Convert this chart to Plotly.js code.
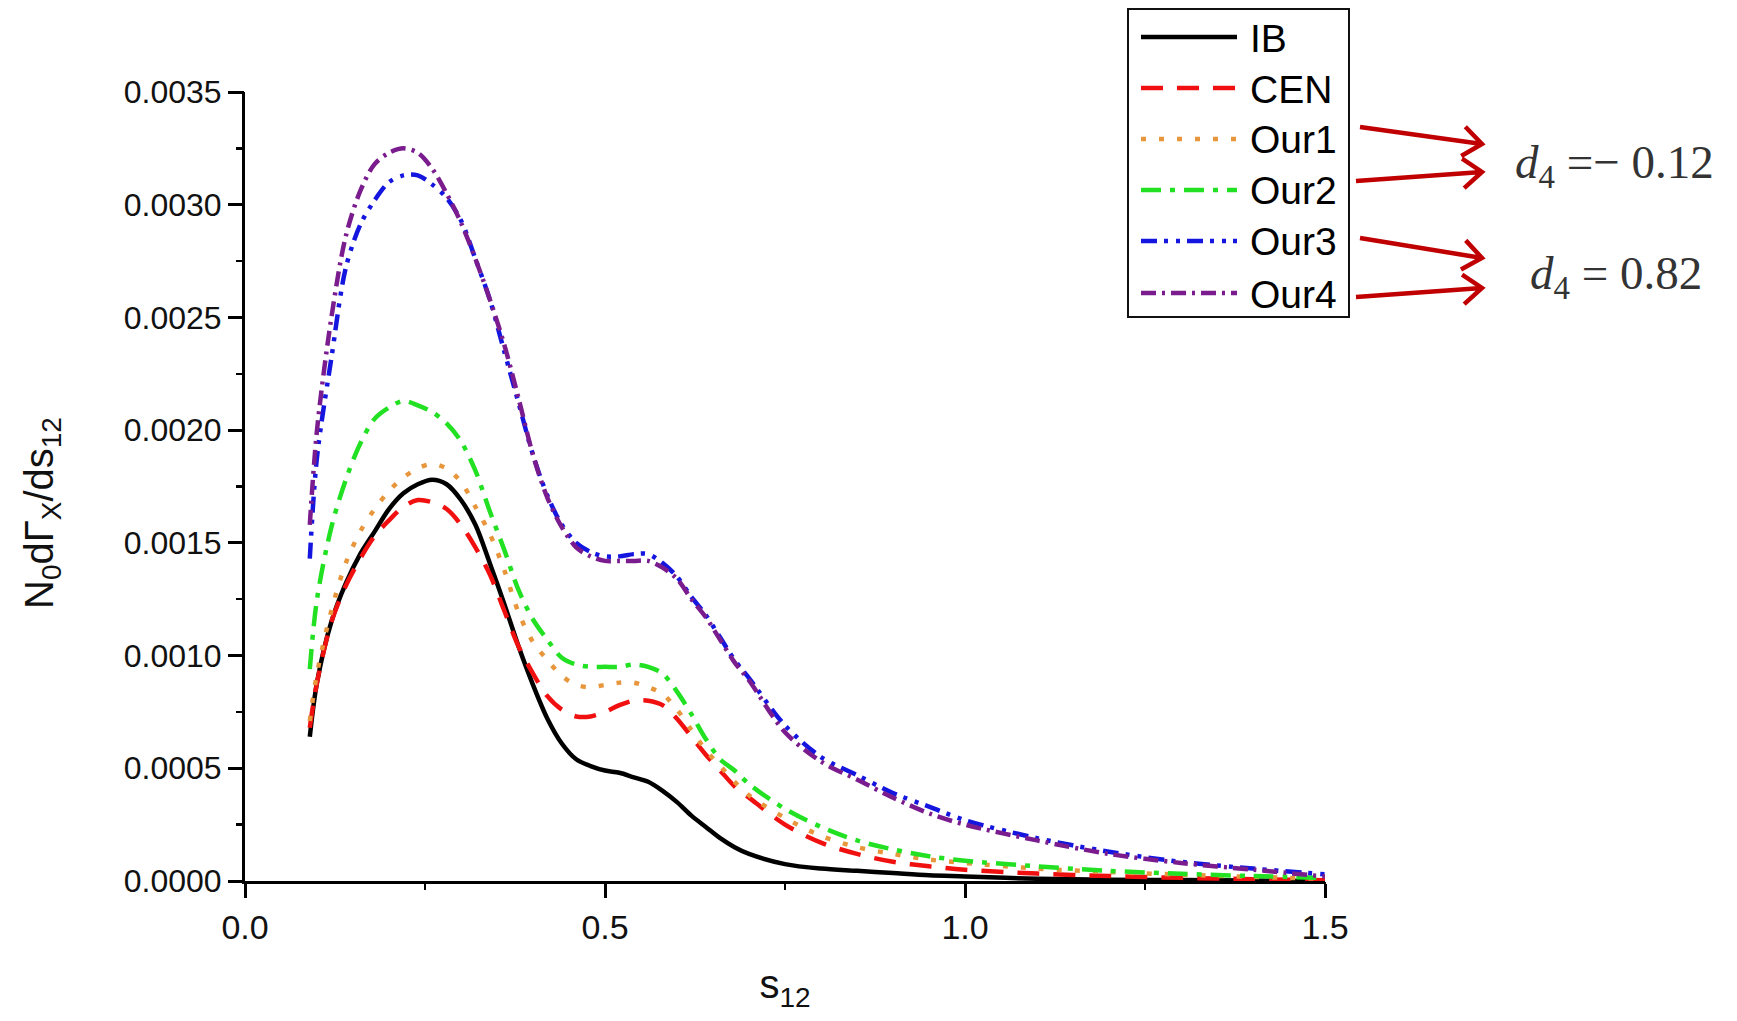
<!DOCTYPE html>
<html>
<head>
<meta charset="utf-8">
<script src="https://cdn.plot.ly/plotly-3.0.1.min.js"></script>
<style>
  html, body { margin: 0; padding: 0; background: #ffffff; }
  #chart { width: 1737px; height: 1021px; }
</style>
</head>
<body>
<div id="chart"></div>
<script>
// ---- data ----
const s12 = [0.09, 0.10, 0.12, 0.14, 0.16, 0.18, 0.20, 0.22, 0.24, 0.26, 0.28, 0.30,
             0.32, 0.34, 0.36, 0.38, 0.40, 0.42, 0.44, 0.46, 0.48, 0.50, 0.52, 0.54,
             0.56, 0.58, 0.60, 0.62, 0.64, 0.66, 0.68, 0.70, 0.75, 0.80, 0.85, 0.90,
             0.95, 1.00, 1.10, 1.20, 1.30, 1.40, 1.50];

const IB = [0.00064, 0.00088, 0.00115, 0.00132, 0.00145, 0.00155, 0.00165, 0.00172, 0.00176, 0.00178, 0.00176, 0.00169,
            0.00158, 0.00141, 0.00123, 0.00104, 0.00087, 0.00072, 0.00061, 0.00054, 0.00051, 0.00049, 0.00048, 0.00046,
            0.00044, 0.00040, 0.00035, 0.00029, 0.00024, 0.00019, 0.00015, 0.00012, 0.000075, 0.000055, 0.000045, 0.000035,
            0.000025, 0.00002, 0.00001, 0.000006, 0.000004, 0.000002, 0.0];

const CEN = [0.00068, 0.00088, 0.00115, 0.00131, 0.00143, 0.00153, 0.00160, 0.00166, 0.00169, 0.00168, 0.00165, 0.00158,
             0.00148, 0.00136, 0.00120, 0.00104, 0.00092, 0.00082, 0.00076, 0.00073, 0.00073, 0.00075, 0.00078, 0.00080,
             0.00080, 0.00078, 0.00072, 0.00064, 0.00056, 0.00049, 0.00042, 0.00037, 0.00025, 0.00017, 0.00012, 0.000085,
             0.000065, 0.00005, 0.000033, 0.000022, 0.000014, 0.000008, 0.000003];

const Our1 = [0.00071, 0.00092, 0.00120, 0.00141, 0.00155, 0.00165, 0.00173, 0.00179, 0.00183, 0.00185, 0.00183, 0.00177,
              0.00166, 0.00154, 0.00138, 0.00119, 0.00106, 0.00098, 0.00091, 0.00087, 0.00086, 0.00087, 0.00088, 0.00088,
              0.00086, 0.00083, 0.00076, 0.00067, 0.00058, 0.00051, 0.00044, 0.00038, 0.00028, 0.00020, 0.00015, 0.00012,
              0.000095, 0.00008, 0.000055, 0.00004, 0.000028, 0.000018, 0.00001];

const Our2 = [0.00094, 0.00125, 0.00157, 0.00178, 0.00194, 0.00205, 0.00210, 0.00213, 0.00211, 0.00208, 0.00203, 0.00195,
              0.00182, 0.00164, 0.00147, 0.00129, 0.00116, 0.00107, 0.00099, 0.00096, 0.00095, 0.00095, 0.00095, 0.00096,
              0.00095, 0.00092, 0.00084, 0.00074, 0.00063, 0.00054, 0.00049, 0.00043, 0.00032, 0.00024, 0.00018, 0.00014,
              0.00011, 0.00009, 0.000065, 0.000045, 0.000032, 0.000022, 0.000014];

const Our3 = [0.00143, 0.00188, 0.00232, 0.00272, 0.00291, 0.00302, 0.00310, 0.00313, 0.00313, 0.00309, 0.00303, 0.00293,
              0.00276, 0.00258, 0.00235, 0.00212, 0.00189, 0.00171, 0.00158, 0.00150, 0.00146, 0.00144, 0.00144, 0.00145,
              0.00145, 0.00141, 0.00135, 0.00126, 0.00118, 0.00108, 0.00098, 0.00090, 0.00069, 0.00055, 0.00047, 0.00039,
              0.00033, 0.00027, 0.00019, 0.00013, 0.000085, 0.000055, 0.00003];

const Our4 = [0.00158, 0.00200, 0.00250, 0.00286, 0.00306, 0.00318, 0.00323, 0.00325, 0.00323, 0.00316, 0.00305, 0.00292,
              0.00276, 0.00258, 0.00238, 0.00214, 0.00189, 0.00170, 0.00157, 0.00148, 0.00144, 0.00142, 0.00142, 0.00142,
              0.00142, 0.00139, 0.00134, 0.00125, 0.00117, 0.00107, 0.00097, 0.00089, 0.00066, 0.00053, 0.00045, 0.00037,
              0.00030, 0.00025, 0.00018, 0.00012, 0.00008, 0.00005, 0.00002];

const seriesNames = ["IB", "CEN", "Our1", "Our2", "Our3", "Our4"];
const xTickVals = [0.0, 0.5, 1.0, 1.5];
const xTickText = ["0.0", "0.5", "1.0", "1.5"];
const yTickVals = [0.0, 0.0005, 0.0010, 0.0015, 0.0020, 0.0025, 0.0030, 0.0035];
const yTickText = ["0.0000", "0.0005", "0.0010", "0.0015", "0.0020", "0.0025", "0.0030", "0.0035"];
const xTitle = "s<sub>12</sub>";
const yTitle = "N<sub>0</sub>dΓ<sub>X</sub>/ds<sub>12</sub>";
const noteTexts = ["<i>d</i><sub>4</sub> =− 0.12", "<i>d</i><sub>4</sub> = 0.82"];

// ---- styles ----
const styles = [
  {color: "#000000", dash: "solid"},
  {color: "#f01010", dash: "22px,14px"},
  {color: "#e8963c", dash: "5px,13px"},
  {color: "#22e022", dash: "20px,9px,5px,9px"},
  {color: "#1515e0", dash: "16px,7px,4px,8px,4px,7px"},
  {color: "#7a1c8e", dash: "15px,6px,3px,6px"}
];
const values = [IB, CEN, Our1, Our2, Our3, Our4];

const traces = values.map((v, i) => ({
  type: "scatter", mode: "lines", name: seriesNames[i],
  x: s12, y: v,
  line: {color: styles[i].color, width: 4.5, dash: styles[i].dash, shape: "spline", smoothing: 0.9},
  showlegend: false, hoverinfo: "skip"
}));
// invisible carrier trace so the minor-tick overlay axes get drawn
traces.push({type: "scatter", mode: "lines", x: s12, y: IB, xaxis: "x2", yaxis: "y2",
  line: {width: 0, color: "rgba(0,0,0,0)"}, showlegend: false, hoverinfo: "skip"});

// ---- geometry helpers (pixel -> paper) ----
const FW = 1737, FH = 1021;
const M = {l: 245, r: 412, t: 92, b: 140};
const PW = FW - M.l - M.r, PH = FH - M.t - M.b;
const px = p => (p - M.l) / PW;
const py = p => (FH - M.b - p) / PH;

const shapes = [];
const annotations = [];

// custom legend (long line samples as in the reference)
shapes.push({type: "rect", xref: "paper", yref: "paper",
  x0: px(1128), x1: px(1349), y0: py(9), y1: py(317),
  line: {color: "#111", width: 2}, fillcolor: "rgba(0,0,0,0)"});
const legendRows = [37, 88, 139, 190, 241, 293];
seriesNames.forEach((n, i) => {
  shapes.push({type: "line", xref: "paper", yref: "paper",
    x0: px(1141), x1: px(1237), y0: py(legendRows[i]), y1: py(legendRows[i]),
    line: {color: styles[i].color, width: 4.5, dash: styles[i].dash}});
  annotations.push({xref: "paper", yref: "paper", x: px(1248), y: py(legendRows[i] + 1),
    xanchor: "left", yanchor: "middle", showarrow: false, text: n,
    font: {family: "Liberation Sans, Arial, sans-serif", size: 39, color: "#000"}});
});

// red arrows from legend entries to the d4 notes
function arrow(x0, y0, x1, y1) {
  const dx = x1 - x0, dy = y1 - y0, L = Math.hypot(dx, dy);
  const ux = dx / L, uy = dy / L, h = 24, a = 38 * Math.PI / 180;
  const r = (c, s) => [x1 - h * (ux * c - uy * s), y1 - h * (uy * c + ux * s)];
  const p1 = r(Math.cos(a), Math.sin(a)), p2 = r(Math.cos(a), -Math.sin(a));
  const P = (x, y) => px(x).toFixed(5) + "," + py(y).toFixed(5);
  shapes.push({type: "path", xref: "paper", yref: "paper",
    path: "M" + P(x0, y0) + " L" + P(x1, y1) + " M" + P(p1[0], p1[1]) + " L" + P(x1, y1) + " L" + P(p2[0], p2[1]),
    line: {color: "#c00000", width: 4.5}});
}
arrow(1360, 127, 1482, 144);
arrow(1356, 181, 1482, 172);
arrow(1360, 238, 1482, 258);
arrow(1356, 297, 1482, 288);

annotations.push({xref: "paper", yref: "paper", x: px(1614), y: py(165), xanchor: "center", yanchor: "middle",
  showarrow: false, text: noteTexts[0], font: {family: "Liberation Serif, DejaVu Serif, serif", size: 47, color: "#333"}});
annotations.push({xref: "paper", yref: "paper", x: px(1616), y: py(276), xanchor: "center", yanchor: "middle",
  showarrow: false, text: noteTexts[1], font: {family: "Liberation Serif, DejaVu Serif, serif", size: 47, color: "#333"}});

// y-axis title placed where the reference shows it
annotations.push({xref: "paper", yref: "paper", x: px(42), y: py(513), xanchor: "center", yanchor: "middle",
  showarrow: false, textangle: -90, text: yTitle,
  font: {family: "Liberation Sans, Arial, sans-serif", size: 40, color: "#111"}});

const xFont = {family: "Liberation Sans, Arial, sans-serif", size: 34, color: "#111"};
const yFont = {family: "Liberation Sans, Arial, sans-serif", size: 32, color: "#111"};
const layout = {
  width: FW, height: FH,
  margin: M,
  paper_bgcolor: "#ffffff", plot_bgcolor: "#ffffff",
  showlegend: false,
  xaxis: {
    range: [0, 1.5], tickmode: "array", tickvals: xTickVals, ticktext: xTickText,
    showline: true, linecolor: "#000", linewidth: 3, mirror: false,
    ticks: "outside", ticklen: 14, tickwidth: 3, tickcolor: "#000",
    showgrid: false, zeroline: false, tickfont: xFont,
    title: {text: xTitle, font: {family: "Liberation Sans, Arial, sans-serif", size: 40, color: "#111"}, standoff: 26}
  },
  yaxis: {
    range: [0, 0.0035], tickmode: "array", tickvals: yTickVals, ticktext: yTickText,
    showline: true, linecolor: "#000", linewidth: 3, mirror: false,
    ticks: "outside", ticklen: 14, tickwidth: 3, tickcolor: "#000",
    showgrid: false, zeroline: false, tickfont: yFont
  },
  // overlay axes carrying the short minor ticks
  xaxis2: {
    overlaying: "x", side: "bottom", range: [0, 1.5], tick0: 0, dtick: 0.25,
    ticks: "outside", ticklen: 8, tickwidth: 2.5, tickcolor: "#000",
    showticklabels: false, showline: false, showgrid: false, zeroline: false
  },
  yaxis2: {
    overlaying: "y", side: "left", range: [0, 0.0035], tick0: 0, dtick: 0.00025,
    ticks: "outside", ticklen: 8, tickwidth: 2.5, tickcolor: "#000",
    showticklabels: false, showline: false, showgrid: false, zeroline: false
  },
  shapes: shapes,
  annotations: annotations
};

Plotly.newPlot("chart", traces, layout, {displayModeBar: false, staticPlot: true});
</script>
</body>
</html>
